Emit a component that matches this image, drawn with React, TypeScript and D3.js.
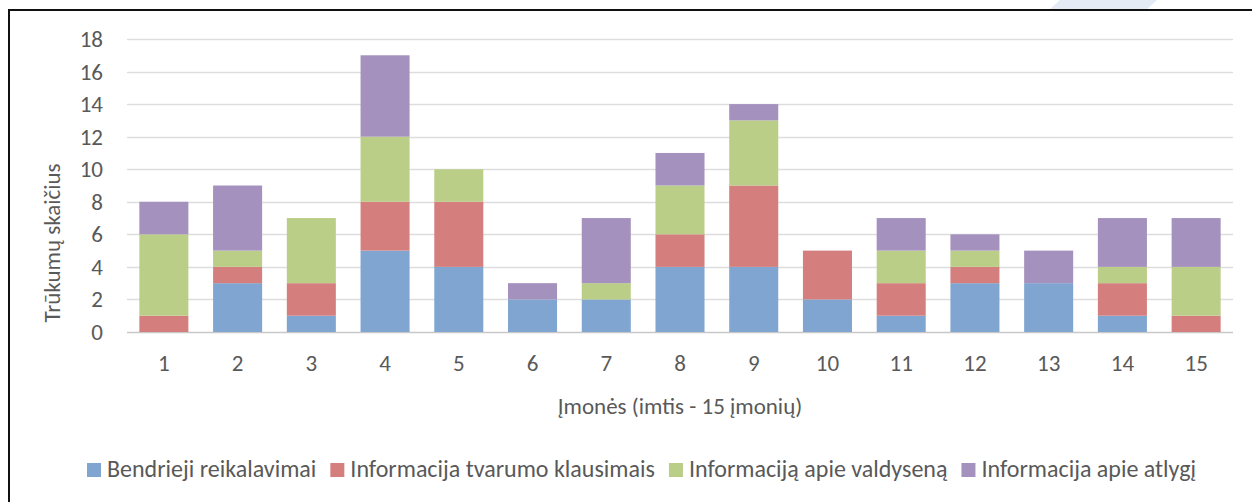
import React, { useEffect, useRef } from "react";
import * as d3 from "d3";

const categories = ["1","2","3","4","5","6","7","8","9","10","11","12","13","14","15"];
const seriesNames = [
  "Bendrieji reikalavimai",
  "Informacija tvarumo klausimais",
  "Informaciją apie valdyseną",
  "Informacija apie atlygį",
];
const bendrieji = [0,3,1,5,4,2,2,4,4,2,1,3,3,1,0];
const tvarumo = [1,1,2,3,4,0,0,2,5,3,2,1,0,2,1];
const valdysena = [5,1,4,4,2,0,1,3,4,0,2,1,0,1,3];
const atlygis = [2,4,0,5,0,1,4,2,1,0,2,1,2,3,3];
const yTicks = [0,2,4,6,8,10,12,14,16,18];
const colors = ["#7FA5D0", "#D47F7E", "#BACE88", "#A591BE"];
const yTitle = "Trūkumų skaičius";
const xTitle = "Įmonės (imtis - 15 įmonių)";

const FONT = "Carlito, Lato, sans-serif";
const FS = 23;
const LFS = 24;

export default function App() {
  const ref = useRef<SVGSVGElement>(null);
  useEffect(() => {
    const svg = d3.select(ref.current);
    svg.selectAll("*").remove();
    const left = 127, right = 1233, top = 39, bottom = 332;

    svg.append("path").attr("d", "M1060,0 L1157,0 L1147,9 L1050,9 Z").attr("fill", "#E4EBF4");
    svg.append("rect").attr("x", 9).attr("y", 10).attr("width", 1300).attr("height", 600)
      .attr("fill", "white").attr("stroke", "#111").attr("stroke-width", 2);

    const x = d3.scaleBand<string>().domain(categories).range([left, right]).paddingInner(0.335).paddingOuter(0.1675);
    const y = d3.scaleLinear().domain([0, 18]).range([bottom, top]);

    const g = svg.append("g");
    g.selectAll("line.grid").data(yTicks).join("line")
      .attr("x1", left).attr("x2", right)
      .attr("y1", d => Math.round(y(d)) + 0.5).attr("y2", d => Math.round(y(d)) + 0.5)
      .attr("stroke", d => d === 0 ? "#C8C8C8" : "#DDDDDD").attr("stroke-width", 1.3);

    const table = categories.map((c, i) => ({ c, s0: bendrieji[i], s1: tvarumo[i], s2: valdysena[i], s3: atlygis[i] }));
    const stack = d3.stack<any>().keys(["s0", "s1", "s2", "s3"])(table);
    stack.forEach((layer, li) => {
      g.append("g").selectAll("rect").data(layer).join("rect")
        .attr("x", d => x(d.data.c)!)
        .attr("width", x.bandwidth())
        .attr("y", d => y(d[1]))
        .attr("height", d => y(d[0]) - y(d[1]))
        .attr("fill", colors[li]);
    });

    g.selectAll("text.yt").data(yTicks).join("text")
      .attr("x", 103).attr("y", d => y(d)).attr("dy", "0.35em")
      .attr("text-anchor", "end").attr("font-family", FONT).attr("font-size", FS).attr("fill", "#595959")
      .text(d => String(d));
    g.selectAll("text.xt").data(categories).join("text")
      .attr("x", d => x(d)! + x.bandwidth() / 2).attr("y", 371)
      .attr("text-anchor", "middle").attr("font-family", FONT).attr("font-size", FS).attr("fill", "#595959")
      .text(d => d);
    g.append("text").attr("transform", "translate(60,243) rotate(-90)")
      .attr("text-anchor", "middle").attr("font-family", FONT).attr("font-size", FS).attr("fill", "#595959")
      .text(yTitle);
    g.append("text").attr("x", (left + right) / 2).attr("y", 414)
      .attr("text-anchor", "middle").attr("font-family", FONT).attr("font-size", FS).attr("fill", "#595959")
      .text(xTitle);

    const lg = svg.append("g");
    let cx = 87;
    seriesNames.forEach((n, i) => {
      lg.append("rect").attr("x", cx).attr("y", 463).attr("width", 14).attr("height", 14).attr("fill", colors[i]);
      const t = lg.append("text").attr("x", cx + 20).attr("y", 477)
        .attr("font-family", FONT).attr("font-size", LFS).attr("fill", "#595959").text(n);
      const w = (t.node() as SVGTextElement).getComputedTextLength();
      cx += 20 + w + 14;
    });
  }, []);
  return <svg ref={ref} width={1252} height={502} style={{ display: "block", position: "absolute", left: 0, top: 0 }} />;
}
